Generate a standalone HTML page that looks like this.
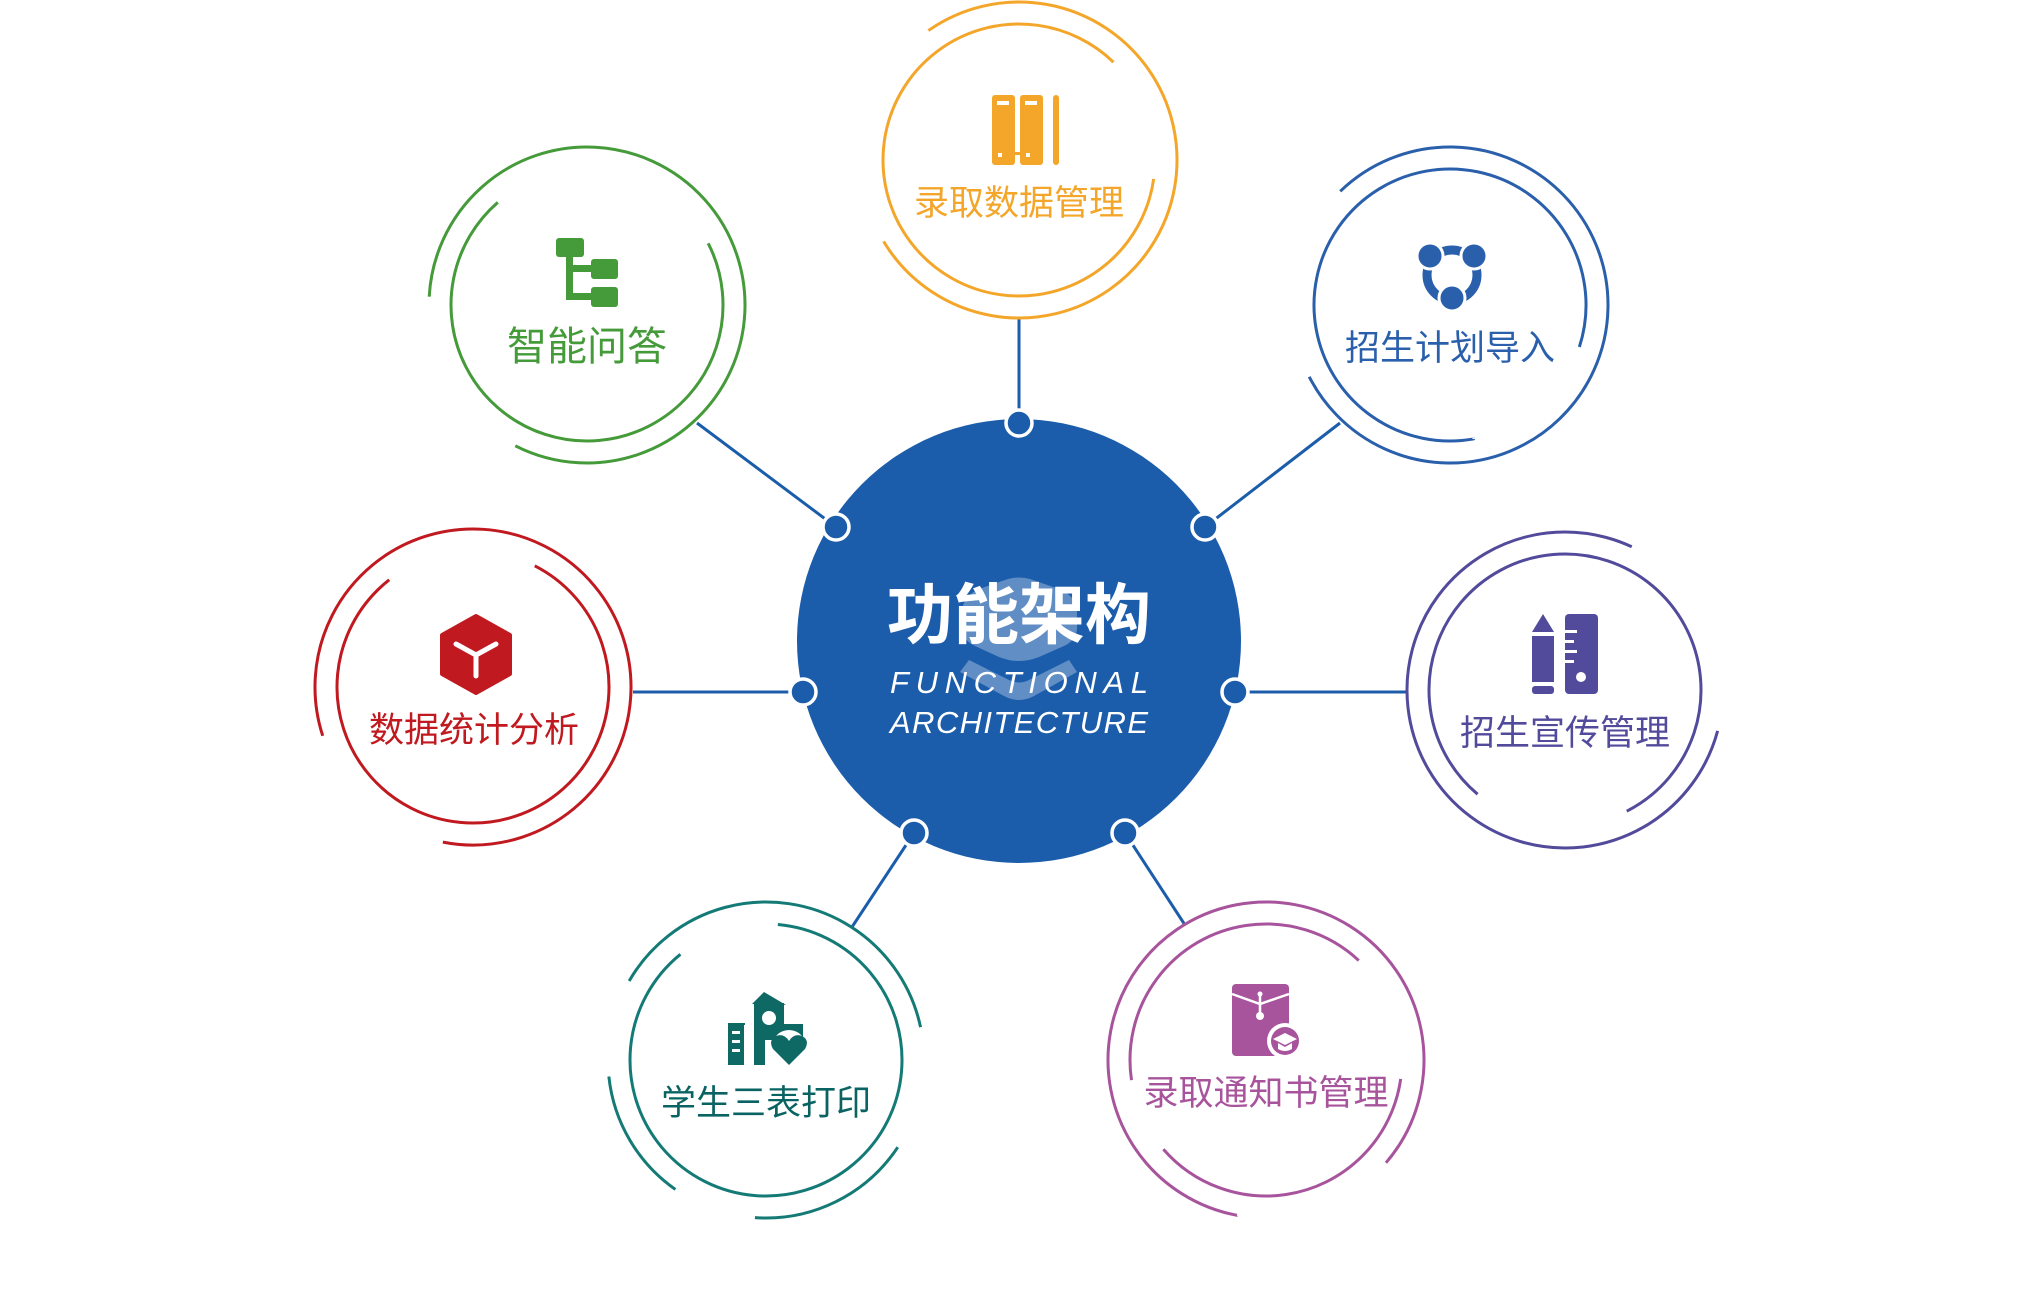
<!DOCTYPE html>
<html><head><meta charset="utf-8"><style>
html,body{margin:0;padding:0;background:#fff;}
svg{display:block;}
text{font-family:"Liberation Sans","Noto Sans CJK SC",sans-serif;}
</style></head><body>
<svg width="2041" height="1293" viewBox="0 0 2041 1293" xmlns="http://www.w3.org/2000/svg">
<!-- connectors -->
<g stroke="#1c5dab" stroke-width="3">
<line x1="1019" y1="318" x2="1019" y2="423"/>
<line x1="697" y1="423" x2="836" y2="527"/>
<line x1="1340" y1="423" x2="1205" y2="527"/>
<line x1="633" y1="692" x2="803" y2="692"/>
<line x1="1407" y1="692" x2="1235" y2="692"/>
<line x1="852" y1="927" x2="914" y2="833"/>
<line x1="1185" y1="925" x2="1125" y2="833"/>
</g>
<!-- hub -->
<circle cx="1019" cy="641" r="222" fill="#1c5dab"/>
<g fill="#ffffff" opacity="0.3">
<path d="M962 613 Q962 595 982 588 L1008 579 Q1019 576 1030 579 L1056 588 Q1077 595 1077 613 L1077 628 Q1077 640 1064 646 L1039 657 Q1019 665 999 657 L975 646 Q962 640 962 628 Z"/>
<path d="M960 672 L969 660 L1009 680 Q1019 685 1029 680 L1069 660 L1077 672 L1034 696 Q1019 704 1004 696 Z"/>
</g>
<text x="1019" y="638" text-anchor="middle" font-size="66" font-weight="bold" fill="#fff">功能架构</text>
<text x="1019" y="693" text-anchor="middle" font-size="31" font-style="italic" fill="#fff" textLength="258" lengthAdjust="spacing">FUNCTIONAL</text>
<text x="1019" y="733" text-anchor="middle" font-size="31" font-style="italic" fill="#fff" textLength="258" lengthAdjust="spacing">ARCHITECTURE</text>
<g fill="#1c5dab" stroke="#fff" stroke-width="3.5">
<circle cx="1019" cy="423" r="13"/>
<circle cx="836" cy="527" r="13"/>
<circle cx="1205" cy="527" r="13"/>
<circle cx="803" cy="692" r="13"/>
<circle cx="1235" cy="692" r="13"/>
<circle cx="914" cy="833" r="13"/>
<circle cx="1125" cy="833" r="13"/>
</g>

<g fill="none" stroke-width="3">
<circle cx="1019" cy="160" r="158" stroke="#f4a62a" pathLength="360" stroke-dasharray="274 86" transform="rotate(235 1019 160)"/>
<circle cx="1019" cy="160" r="136" stroke="#f4a62a" pathLength="360" stroke-dasharray="306 54" transform="rotate(8 1019 160)"/>
<circle cx="587" cy="305" r="158" stroke="#459a3a" pathLength="360" stroke-dasharray="294 66" transform="rotate(183 587 305)"/>
<circle cx="587" cy="305" r="136" stroke="#459a3a" pathLength="360" stroke-dasharray="256 104" transform="rotate(333 587 305)"/>
<circle cx="1450" cy="305" r="158" stroke="#2a5fab" pathLength="360" stroke-dasharray="287 73" transform="rotate(226 1450 305)"/>
<circle cx="1450" cy="305" r="136" stroke="#2a5fab" pathLength="360" stroke-dasharray="298 62" transform="rotate(80 1450 305)"/>
<circle cx="473" cy="687" r="158" stroke="#c0191f" pathLength="360" stroke-dasharray="299 61" transform="rotate(162 473 687)"/>
<circle cx="473" cy="687" r="136" stroke="#c0191f" pathLength="360" stroke-dasharray="295 65" transform="rotate(297 473 687)"/>
<circle cx="1565" cy="690" r="158" stroke="#524a9b" pathLength="360" stroke-dasharray="280 80" transform="rotate(15 1565 690)"/>
<circle cx="1565" cy="690" r="136" stroke="#524a9b" pathLength="360" stroke-dasharray="293 67" transform="rotate(130 1565 690)"/>
<circle cx="766" cy="1060" r="158" stroke="#147a76" pathLength="360" stroke-dasharray="138 45.5 60.5 31 49 36" transform="rotate(210 766 1060)"/>
<circle cx="766" cy="1060" r="136" stroke="#147a76" pathLength="360" stroke-dasharray="316 44" transform="rotate(275 766 1060)"/>
<circle cx="1266" cy="1060" r="158" stroke="#a8549d" pathLength="360" stroke-dasharray="300 60" transform="rotate(100.6 1266 1060)"/>
<circle cx="1266" cy="1060" r="136" stroke="#a8549d" pathLength="360" stroke-dasharray="141.5 55 131 32.5" transform="rotate(171.5 1266 1060)"/>
</g>

<!-- orange binders -->
<g fill="#f4a62a">
<rect x="992" y="95" width="23" height="70" rx="3"/>
<rect x="1020" y="95" width="23" height="70" rx="3"/>
<rect x="1053" y="95" width="6" height="70" rx="3"/>
<rect x="1012" y="152" width="10" height="3"/>
</g>
<g fill="#fff">
<rect x="997" y="101" width="12" height="4"/><rect x="1025" y="101" width="12" height="4"/>
<rect x="998" y="153" width="4" height="4"/><rect x="1026" y="153" width="4" height="4"/>
</g>
<!-- green tree -->
<g fill="#459a3a">
<rect x="556" y="238" width="28" height="19" rx="3"/>
<rect x="566" y="255" width="7" height="45"/>
<rect x="566" y="265" width="30" height="7"/>
<rect x="566" y="293" width="30" height="7"/>
<rect x="591" y="259" width="27" height="20" rx="3"/>
<rect x="591" y="287" width="27" height="20" rx="3"/>
</g>
<!-- blue cycle -->
<circle cx="1452" cy="275" r="25" fill="none" stroke="#2a5fab" stroke-width="9"/>
<circle cx="1430" cy="256" r="13" fill="#2a5fab" stroke="#fff" stroke-width="3"/>
<circle cx="1474" cy="256" r="13" fill="#2a5fab" stroke="#fff" stroke-width="3"/>
<circle cx="1452" cy="298" r="13" fill="#2a5fab" stroke="#fff" stroke-width="3"/>
<!-- red cube -->
<path d="M476 616 L510 635 L510 674 L476 693 L442 674 L442 635 Z" fill="#c0191f" stroke="#c0191f" stroke-width="4" stroke-linejoin="round"/>
<g stroke="#fff" stroke-width="5" stroke-linecap="round" fill="none">
<line x1="476" y1="655" x2="476" y2="676"/>
<line x1="476" y1="655" x2="456" y2="644"/>
<line x1="476" y1="655" x2="496" y2="644"/>
</g>
<!-- purple pencil & ruler -->
<g fill="#524a9b">
<path d="M1532 632 L1543 614 L1554 632 Z"/>
<rect x="1532" y="636" width="22" height="46"/>
<rect x="1532" y="686" width="22" height="8" rx="3"/>
<rect x="1565" y="614" width="33" height="80" rx="4"/>
</g>
<g fill="#fff">
<rect x="1565" y="630" width="12" height="3"/><rect x="1565" y="640" width="9" height="3"/><rect x="1565" y="650" width="12" height="3"/><rect x="1565" y="660" width="9" height="3"/>
<circle cx="1581" cy="677" r="5"/>
</g>
<!-- teal building -->
<g fill="#0e6864">
<path d="M752 1004 L764 992 L786 1005 Z"/>
<rect x="754" y="1003" width="30" height="62"/>
<rect x="728" y="1023" width="17" height="42"/>
<rect x="784" y="1024" width="19" height="14"/>
</g>
<circle cx="769" cy="1018" r="7" fill="#fff"/>
<rect x="744" y="1025" width="10" height="40" fill="#fff"/>
<rect x="732" y="1031" width="8" height="3" fill="#fff"/><rect x="732" y="1040" width="8" height="3" fill="#fff"/><rect x="732" y="1049" width="8" height="3" fill="#fff"/>
<rect x="765" y="1040" width="19" height="25" fill="#fff"/>
<circle cx="789" cy="1047" r="17" fill="#fff"/>
<path d="M789 1065 L773 1049 Q768 1040 776 1036 Q784 1033 789 1041 Q794 1033 802 1036 Q810 1040 805 1049 Z" fill="#0e6864"/>
<!-- magenta envelope -->
<rect x="1232" y="984" width="57" height="72" rx="4" fill="#a8549d"/>
<path d="M1232 994 L1260 1004 L1289 994" fill="none" stroke="#fff" stroke-width="2.5"/>
<line x1="1260" y1="995" x2="1260" y2="1015" stroke="#fff" stroke-width="2.5"/>
<circle cx="1260" cy="994" r="2.5" fill="#fff"/><circle cx="1260" cy="1016" r="4" fill="#fff"/>
<circle cx="1285" cy="1041" r="18" fill="#fff"/>
<circle cx="1285" cy="1041" r="14" fill="#a8549d"/>
<path d="M1273 1039 L1285 1033 L1297 1039 L1285 1045 Z" fill="#fff"/>
<path d="M1278 1043 L1278 1049 Q1285 1053 1292 1049 L1292 1043 L1285 1047 Z" fill="#fff"/>

<!-- labels -->
<text x="1019" y="215" text-anchor="middle" font-size="35" fill="#f4a62a">录取数据管理</text>
<text x="587" y="360" text-anchor="middle" font-size="40" fill="#459a3a">智能问答</text>
<text x="1450" y="360" text-anchor="middle" font-size="35" fill="#2a5fab">招生计划导入</text>
<text x="474" y="742" text-anchor="middle" font-size="35" fill="#c0191f">数据统计分析</text>
<text x="1565" y="745" text-anchor="middle" font-size="35" fill="#524a9b">招生宣传管理</text>
<text x="766" y="1115" text-anchor="middle" font-size="35" fill="#0a6363">学生三表打印</text>
<text x="1266" y="1105" text-anchor="middle" font-size="35" fill="#a8549d">录取通知书管理</text>
</svg>
</body></html>
